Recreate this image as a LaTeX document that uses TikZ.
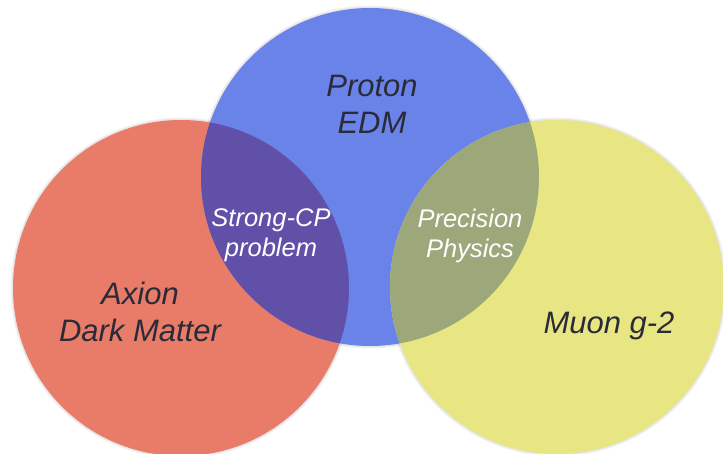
\documentclass[tikz,border=0pt]{standalone}
\usepackage{fontspec}
\setmainfont{Liberation Sans}
\definecolor{cred}{HTML}{E97B69}
\definecolor{cblue}{HTML}{6A83E8}
\definecolor{cyel}{HTML}{E8E682}
\definecolor{cpurp}{HTML}{6150A8}
\definecolor{colive}{HTML}{9DA87A}
\definecolor{ctext}{HTML}{2A2B38}
\tikzset{
  bigtxt/.style={font=\fontsize{31}{37}\selectfont\itshape, text=ctext, align=center, inner sep=0pt},
  smalltxt/.style={font=\fontsize{25.5}{30.5}\selectfont\itshape, text=white, align=center, inner sep=0pt},
  shade ring/.style={fill=black, opacity=0.05}
}
\begin{document}
\begin{tikzpicture}[x=1pt,y=-1pt]
\useasboundingbox (0,0) rectangle (723,454);
\fill[white] (0,0) rectangle (723,454);
% soft shadows
\foreach \c/\r in {{(181,288)}/168,{(370,177)}/169,{(557,287)}/167}{
  \fill[shade ring] \c circle (\r+2.5);
  \fill[shade ring] \c circle (\r+1.2);
}
\fill[cred] (181,288) circle (168);
\fill[cblue] (370,177) circle (169);
\fill[cyel] (557,287) circle (167);
\begin{scope}
  \clip (181,288) circle (168);
  \fill[cpurp] (370,177) circle (169);
\end{scope}
\begin{scope}
  \clip (557,287) circle (167);
  \fill[colive] (370,177) circle (169);
\end{scope}
\node[bigtxt] (proton) at (372,104) {Proton\\EDM};
\node[bigtxt] (axion) at (140,312) {Axion\\Dark Matter};
\node[bigtxt, anchor=base] (muon) at (609,334) {Muon g-2};
\node[smalltxt] (strong) at (271,235) {Strong-CP\\problem};
\node[smalltxt] (prec) at (470,236) {Precision\\Physics};
\end{tikzpicture}
\end{document}
